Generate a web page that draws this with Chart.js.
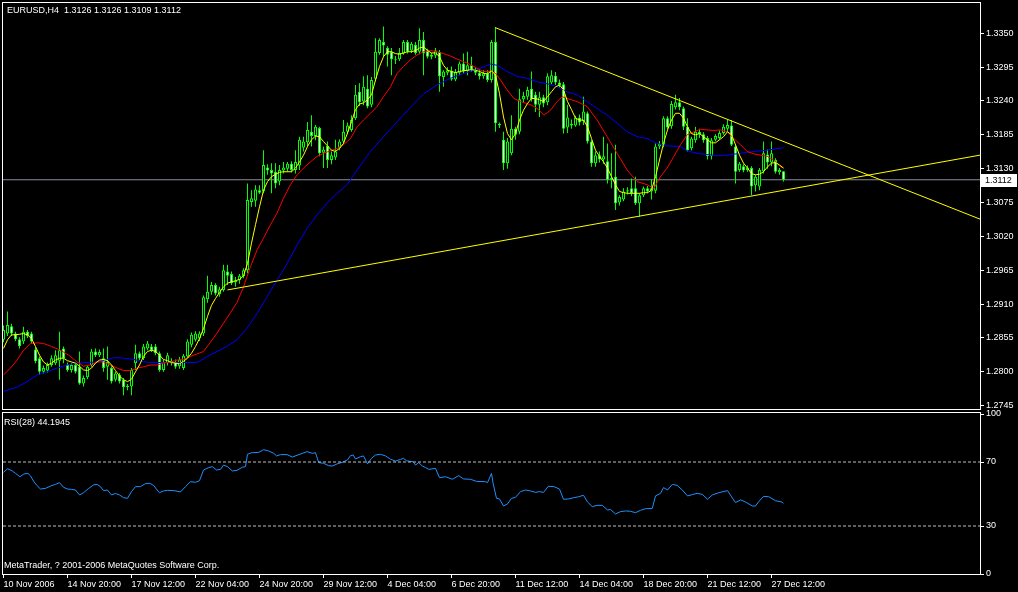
<!DOCTYPE html>
<html>
<head>
<meta charset="utf-8">
<script src="https://cdn.jsdelivr.net/npm/chart.js@4.4.1/dist/chart.umd.min.js"></script>
<style>
  html, body { margin: 0; padding: 0; background: #000; overflow: hidden; }
  #wrap { position: relative; width: 1018px; height: 592px; background: #000; }
  canvas { position: absolute; left: 0; }
  #main { top: 0; width: 1018px; height: 410px; }
  #rsi { top: 410px; width: 1018px; height: 182px; }
</style>
</head>
<body>
<div id="wrap">
  <canvas id="main" width="1018" height="410"></canvas>
  <canvas id="rsi" width="1018" height="182"></canvas>
</div>
<script>
// EURUSD H4, bar index 0 = 10 Nov 2006 00:00
const symbolLine = "EURUSD,H4  1.3126 1.3126 1.3109 1.3112";
const rsiTitle = "RSI(28) 44.1945";
const copyright = "MetaTrader, ? 2001-2006 MetaQuotes Software Corp.";
const bidPrice = 1.3112;

const opens = [
  1.2852,1.2862,1.2874,1.2862,1.2853,1.2849,1.2865,1.2862,1.2836,1.2822,
  1.2800,1.2802,1.2811,1.2814,1.2818,1.2838,1.2811,1.2803,1.2811,1.2808,
  1.2781,1.2791,1.2811,1.2833,1.2827,1.2822,1.2808,1.2806,1.2787,1.2795,
  1.2787,1.2775,1.2776,1.2814,1.2830,1.2822,1.2838,1.2841,1.2841,1.2830,
  1.2803,1.2814,1.2818,1.2816,1.2809,1.2806,1.2825,1.2844,1.2852,1.2854,
  1.2862,1.2918,1.2930,1.2941,1.2926,1.2933,1.2963,1.2959,1.2945,1.2949,
  1.2955,1.2965,1.3076,1.3078,1.3095,1.3093,1.3132,1.3128,1.3125,1.3109,
  1.3127,1.3130,1.3138,1.3128,1.3135,1.3164,1.3173,1.3190,1.3183,1.3196,
  1.3156,1.3167,1.3144,1.3148,1.3163,1.3174,1.3190,1.3193,1.3212,1.3255,
  1.3239,1.3260,1.3234,1.3276,1.3318,1.3336,1.3326,1.3320,1.3306,1.3308,
  1.3317,1.3336,1.3322,1.3331,1.3320,1.3339,1.3322,1.3312,1.3314,1.3320,
  1.3279,1.3286,1.3289,1.3275,1.3286,1.3301,1.3289,1.3298,1.3290,1.3286,
  1.3280,1.3285,1.3274,1.3336,1.3203,1.3177,1.3139,1.3155,1.3195,1.3190,
  1.3243,1.3247,1.3260,1.3250,1.3234,1.3246,1.3238,1.3270,1.3281,1.3270,
  1.3267,1.3197,1.3203,1.3200,1.3213,1.3207,1.3220,1.3174,1.3139,1.3152,
  1.3145,1.3142,1.3112,1.3117,1.3075,1.3080,1.3093,1.3098,1.3098,1.3074,
  1.3087,1.3098,1.3093,1.3094,1.3166,1.3169,1.3212,1.3199,1.3230,1.3238,
  1.3228,1.3198,1.3163,1.3176,1.3190,1.3186,1.3180,1.3150,1.3177,1.3180,
  1.3188,1.3195,1.3200,1.3166,1.3128,1.3134,1.3128,1.3131,1.3103,1.3101,
  1.3126,1.3153,1.3140,1.3144,1.3124,1.3126
];
const highs = [
  1.2875,1.2898,1.2878,1.2865,1.2856,1.2873,1.2868,1.2865,1.2840,1.2825,
  1.2810,1.2815,1.2827,1.2835,1.2865,1.2841,1.2815,1.2814,1.2814,1.2833,
  1.2794,1.2811,1.2837,1.2838,1.2836,1.2838,1.2841,1.2809,1.2800,1.2798,
  1.2790,1.2780,1.2806,1.2844,1.2833,1.2845,1.2850,1.2845,1.2845,1.2833,
  1.2820,1.2831,1.2822,1.2820,1.2824,1.2829,1.2853,1.2864,1.2866,1.2866,
  1.2924,1.2956,1.2946,1.2944,1.2938,1.2974,1.2974,1.2963,1.2954,1.2959,
  1.2968,1.3106,1.3095,1.3103,1.3103,1.3160,1.3137,1.3139,1.3139,1.3136,
  1.3141,1.3141,1.3142,1.3160,1.3182,1.3182,1.3206,1.3217,1.3201,1.3198,
  1.3166,1.3174,1.3158,1.3177,1.3178,1.3209,1.3205,1.3217,1.3266,1.3269,
  1.3280,1.3282,1.3279,1.3342,1.3342,1.3361,1.3329,1.3326,1.3313,1.3326,
  1.3339,1.3339,1.3336,1.3336,1.3358,1.3352,1.3325,1.3318,1.3326,1.3323,
  1.3290,1.3295,1.3296,1.3292,1.3304,1.3317,1.3320,1.3312,1.3295,1.3290,
  1.3290,1.3290,1.3339,1.3360,1.3205,1.3190,1.3180,1.3217,1.3198,1.3260,
  1.3255,1.3263,1.3288,1.3255,1.3255,1.3250,1.3285,1.3290,1.3287,1.3275,
  1.3271,1.3234,1.3210,1.3216,1.3218,1.3247,1.3223,1.3176,1.3158,1.3158,
  1.3182,1.3171,1.3155,1.3169,1.3087,1.3098,1.3100,1.3114,1.3117,1.3090,
  1.3101,1.3102,1.3112,1.3171,1.3175,1.3215,1.3215,1.3240,1.3250,1.3245,
  1.3231,1.3212,1.3182,1.3198,1.3195,1.3189,1.3183,1.3180,1.3186,1.3192,
  1.3202,1.3209,1.3209,1.3170,1.3141,1.3137,1.3135,1.3134,1.3120,1.3131,
  1.3174,1.3161,1.3174,1.3147,1.3131,1.3126
];
const lows = [
  1.2848,1.2858,1.2858,1.2850,1.2838,1.2845,1.2855,1.2846,1.2814,1.2795,
  1.2797,1.2799,1.2808,1.2811,1.2787,1.2814,1.2800,1.2799,1.2797,1.2779,
  1.2776,1.2788,1.2808,1.2824,1.2824,1.2800,1.2787,1.2781,1.2784,1.2781,
  1.2762,1.2770,1.2762,1.2803,1.2819,1.2819,1.2835,1.2832,1.2827,1.2800,
  1.2800,1.2810,1.2810,1.2805,1.2805,1.2803,1.2822,1.2840,1.2849,1.2850,
  1.2858,1.2912,1.2925,1.2924,1.2922,1.2930,1.2941,1.2941,1.2938,1.2943,
  1.2952,1.2960,1.3068,1.3068,1.3089,1.3090,1.3120,1.3090,1.3098,1.3103,
  1.3122,1.3125,1.3124,1.3122,1.3128,1.3158,1.3166,1.3166,1.3176,1.3150,
  1.3131,1.3131,1.3137,1.3144,1.3160,1.3171,1.3186,1.3190,1.3209,1.3232,
  1.3233,1.3228,1.3230,1.3272,1.3315,1.3312,1.3296,1.3282,1.3300,1.3305,
  1.3315,1.3317,1.3318,1.3315,1.3316,1.3282,1.3309,1.3308,1.3310,1.3255,
  1.3263,1.3282,1.3273,1.3272,1.3282,1.3284,1.3282,1.3287,1.3282,1.3275,
  1.3276,1.3271,1.3270,1.3190,1.3196,1.3128,1.3130,1.3152,1.3177,1.3186,
  1.3238,1.3242,1.3239,1.3222,1.3214,1.3230,1.3233,1.3267,1.3266,1.3262,
  1.3187,1.3188,1.3195,1.3198,1.3200,1.3201,1.3171,1.3133,1.3133,1.3140,
  1.3138,1.3106,1.3098,1.3063,1.3070,1.3077,1.3088,1.3085,1.3071,1.3052,
  1.3084,1.3090,1.3080,1.3090,1.3162,1.3165,1.3194,1.3195,1.3226,1.3225,
  1.3193,1.3158,1.3160,1.3172,1.3180,1.3172,1.3145,1.3145,1.3174,1.3177,
  1.3185,1.3190,1.3167,1.3106,1.3125,1.3124,1.3125,1.3087,1.3093,1.3095,
  1.3122,1.3130,1.3134,1.3122,1.3120,1.3109
];
const closes = [
  1.2868,1.2876,1.2862,1.2853,1.2842,1.2865,1.2858,1.2849,1.2817,1.2800,
  1.2806,1.2811,1.2822,1.2827,1.2835,1.2822,1.2803,1.2811,1.2800,1.2781,
  1.2790,1.2808,1.2833,1.2827,1.2832,1.2806,1.2816,1.2784,1.2797,1.2784,
  1.2775,1.2777,1.2803,1.2830,1.2822,1.2841,1.2846,1.2835,1.2830,1.2803,
  1.2816,1.2827,1.2814,1.2808,1.2820,1.2826,1.2849,1.2860,1.2862,1.2862,
  1.2921,1.2930,1.2941,1.2927,1.2934,1.2965,1.2956,1.2944,1.2948,1.2956,
  1.2965,1.3079,1.3082,1.3096,1.3091,1.3136,1.3127,1.3122,1.3106,1.3128,
  1.3132,1.3138,1.3128,1.3141,1.3177,1.3174,1.3193,1.3183,1.3198,1.3155,
  1.3161,1.3144,1.3152,1.3158,1.3174,1.3190,1.3200,1.3209,1.3250,1.3238,
  1.3263,1.3231,1.3274,1.3320,1.3339,1.3330,1.3315,1.3308,1.3308,1.3318,
  1.3336,1.3320,1.3333,1.3318,1.3339,1.3317,1.3312,1.3315,1.3322,1.3280,
  1.3288,1.3290,1.3275,1.3287,1.3301,1.3288,1.3298,1.3291,1.3286,1.3280,
  1.3285,1.3274,1.3336,1.3204,1.3200,1.3139,1.3174,1.3195,1.3185,1.3243,
  1.3248,1.3258,1.3243,1.3234,1.3246,1.3236,1.3280,1.3282,1.3270,1.3266,
  1.3195,1.3213,1.3200,1.3213,1.3205,1.3223,1.3174,1.3139,1.3152,1.3145,
  1.3150,1.3112,1.3115,1.3074,1.3084,1.3093,1.3095,1.3090,1.3074,1.3087,
  1.3098,1.3093,1.3098,1.3166,1.3170,1.3212,1.3197,1.3235,1.3238,1.3230,
  1.3198,1.3160,1.3179,1.3190,1.3186,1.3176,1.3150,1.3176,1.3183,1.3188,
  1.3198,1.3201,1.3169,1.3125,1.3138,1.3127,1.3132,1.3101,1.3117,1.3128,
  1.3155,1.3140,1.3155,1.3125,1.3128,1.3112
];

// fast MA (yellow), one value per bar
const fastMA = [
  1.2838,1.2852,1.2860,1.2860,1.2861,1.2862,1.2860,1.2854,1.2841,1.2827,
  1.2816,1.2811,1.2814,1.2819,1.2822,1.2822,1.2818,1.2816,1.2814,1.2809,
  1.2803,1.2802,1.2806,1.2814,1.2819,1.2820,1.2818,1.2811,1.2802,1.2793,
  1.2787,1.2784,1.2788,1.2800,1.2811,1.2825,1.2833,1.2835,1.2833,1.2827,
  1.2820,1.2818,1.2815,1.2814,1.2813,1.2817,1.2822,1.2830,1.2841,1.2854,
  1.2870,1.2890,1.2908,1.2919,1.2929,1.2938,1.2944,1.2946,1.2948,1.2950,
  1.2956,1.2976,1.3009,1.3039,1.3068,1.3095,1.3109,1.3117,1.3121,1.3124,
  1.3125,1.3125,1.3125,1.3131,1.3141,1.3152,1.3166,1.3177,1.3183,1.3182,
  1.3174,1.3167,1.3160,1.3158,1.3163,1.3171,1.3188,1.3206,1.3226,1.3235,
  1.3237,1.3242,1.3250,1.3274,1.3296,1.3312,1.3320,1.3320,1.3317,1.3316,
  1.3318,1.3320,1.3320,1.3322,1.3326,1.3328,1.3322,1.3318,1.3318,1.3312,
  1.3298,1.3290,1.3288,1.3286,1.3288,1.3289,1.3290,1.3291,1.3290,1.3288,
  1.3285,1.3284,1.3289,1.3282,1.3252,1.3214,1.3187,1.3177,1.3187,1.3209,
  1.3225,1.3236,1.3244,1.3244,1.3242,1.3239,1.3247,1.3255,1.3263,1.3266,
  1.3258,1.3239,1.3226,1.3212,1.3209,1.3209,1.3198,1.3179,1.3160,1.3150,
  1.3141,1.3131,1.3117,1.3104,1.3093,1.3091,1.3090,1.3090,1.3090,1.3090,
  1.3091,1.3091,1.3095,1.3117,1.3144,1.3171,1.3193,1.3209,1.3220,1.3220,
  1.3212,1.3198,1.3187,1.3185,1.3187,1.3182,1.3177,1.3172,1.3172,1.3177,
  1.3182,1.3190,1.3185,1.3169,1.3152,1.3139,1.3131,1.3122,1.3120,1.3121,
  1.3125,1.3133,1.3139,1.3140,1.3136,1.3131
];

// middle MA (red), read at these bar positions
const midBars = [0,1.75,3.4,5,6.75,8.4,10,12,14.25,16.3,18.4,20,21.75,23.4,25,26.75,28.4,30,31.75,33.4,
  35,36.75,38.4,40,41.75,43.4,45,46.75,48.4,50,51.75,53.4,55,56.75,58.4,60,60.9,61.75,63.4,65,
  66.75,68.4,70,71.75,73.4,75,76.75,78.4,80,81.75,83.4,85,86.75,88.4,90,91.75,93.4,95,96.75,98.4,
  100,101.75,103.4,105,106.75,108.4,110,111.75,113.4,115,116.75,118.4,120,121.75,123,124.25,125.9,127.6,129.25,131.75,
  133.4,135.1,136.75,138.4,139.7,140.9,143.4,145.9,148.4,150.9,153.4,155.9,158.4,160.9,162.6,164.25,165.9,167.6,169.25,170.9,
  172.6,174.25,175.9,177.6,179.25,180.9,182.6,184.25,185.9,187.6,189.25,190.9,192.6,194.25,195];
const midMA = [1.2795,1.2806,1.2819,1.2835,1.2846,1.2847,1.2846,1.2841,1.2835,1.2827,1.2816,1.2809,1.2811,1.2816,1.2816,1.2811,1.2806,1.2802,1.2802,1.2806,
  1.2808,1.2811,1.2811,1.2814,1.2816,1.2819,1.2820,1.2825,1.2829,1.2833,1.2848,1.2863,1.2879,1.2896,1.2913,1.2938,1.2955,1.2971,1.2998,1.3017,
  1.3039,1.3058,1.3082,1.3104,1.3120,1.3131,1.3141,1.3150,1.3155,1.3159,1.3163,1.3169,1.3179,1.3198,1.3209,1.3220,1.3231,1.3247,1.3263,1.3285,
  1.3296,1.3307,1.3315,1.3320,1.3322,1.3320,1.3317,1.3313,1.3308,1.3304,1.3299,1.3293,1.3288,1.3288,1.3285,1.3274,1.3258,1.3244,1.3239,1.3234,
  1.3228,1.3217,1.3225,1.3239,1.3247,1.3244,1.3239,1.3231,1.3209,1.3182,1.3155,1.3128,1.3109,1.3104,1.3098,1.3117,1.3131,1.3150,1.3169,1.3185,
  1.3190,1.3194,1.3193,1.3192,1.3193,1.3190,1.3179,1.3169,1.3158,1.3154,1.3152,1.3150,1.3144,1.3133,1.3131];

// slow MA (blue)
const slowBars = [0,3.4,5.9,8.4,10.9,13.4,15.9,18.4,20.9,23.4,25.9,28,30,32.6,35,37.6,40,42.6,45,47.6,
  48.8,51,53.4,56,58.4,60.9,63.4,65.9,68.4,70.9,73.4,75.9,78.4,80.9,83.4,85.9,88.4,91.75,95,98.4,
  101.75,105.1,108.4,111.75,115.1,118.4,121.75,123.4,125.9,128.4,130.9,133.4,135.9,138.4,140.9,143.4,145.9,148.4,150.9,153.4,
  155.9,158.4,160.9,163.4,165.9,169.25,170.9,173.4,175.9,178.4,180.9,184.25,187.6,190.9,195];
const slowMA = [1.2768,1.2775,1.2784,1.2795,1.2800,1.2806,1.2811,1.2814,1.2815,1.2816,1.2820,1.2823,1.2822,1.2820,1.2816,1.2815,1.2815,1.2815,1.2815,1.2815,
  1.2816,1.2825,1.2833,1.2842,1.2852,1.2871,1.2895,1.2922,1.2949,1.2976,1.3006,1.3033,1.3055,1.3074,1.3090,1.3104,1.3128,1.3158,1.3182,1.3206,
  1.3230,1.3252,1.3266,1.3277,1.3285,1.3291,1.3300,1.3298,1.3288,1.3280,1.3277,1.3271,1.3268,1.3263,1.3255,1.3250,1.3239,1.3228,1.3217,1.3204,
  1.3190,1.3182,1.3179,1.3171,1.3167,1.3166,1.3159,1.3155,1.3153,1.3151,1.3152,1.3155,1.3158,1.3160,1.3164];

// hand drawn trend lines (bar, price)
const trendDownBars = [123, 244.125];
const trendDownVals = [1.3359, 1.3048];
const trendUpBars = [56, 244.125];
const trendUpVals = [1.2933, 1.3152];

// RSI(28)
const rsiBars = [0,1,2.2,3,4.1,5.1,6.1,6.75,7.6,8.4,9.25,10.5,11.75,13,14,15,16,17,18,19,
  20,21.3,22.6,23.4,24.25,25,26,27,28,29,30,31,32,33,34.25,35.5,36.6,37.6,38.4,39,
  40,41,42.6,44.25,45.5,46.75,48,49,50,51.3,52.2,53.25,54.25,55,56,57.2,58.4,59.7,60.5,61,
  62,63.8,65,66.3,67.6,68.25,69.25,70.9,72.2,73.4,74.7,75.9,77.2,78,78.8,80,81.3,82.2,83.4,84.7,
  86,86.75,87.4,88,89.25,90,91,92,93,94.25,95.5,96.75,98,99.25,100,100.75,101.6,102.4,103,103.8,
  104.7,105.5,106.3,108,109,110.5,112.2,113.8,115,116.75,118.25,120.5,121,122,122.4,123.25,124,125,126,127,
  128,129.25,130.5,131.75,133,134,135,136.2,137.6,139,140,141.3,142.6,143.8,145,146,147.2,148.4,149.7,151,
  151.75,153,154.25,155.5,156.75,158,159.25,160.5,162.2,163,164.25,165,166,167.2,168.4,169.7,171,172.2,173.4,174.7,
  176,177.2,178.8,181,183,184.25,185.5,187.2,188,188.8,190,191.3,193,194.6,195];
const rsiVals = [63.5,65.8,64.4,62.9,60.8,62.5,62.9,61.3,57.7,55.2,53.1,53.5,55.0,56.0,57.1,54.2,53.1,52.9,52.5,49.4,
  50.8,53.5,55.8,56.0,54.6,52.1,52.5,49.4,50.4,49.4,47.7,47.3,51.5,54.6,54.6,56.5,56.7,55.2,52.5,50.8,
  51.9,52.3,52.1,51.3,54.6,57.7,57.3,58.3,65.0,66.5,67.1,65.0,65.4,68.1,67.1,64.4,64.8,66.7,67.1,74.8,
  75.8,76.0,77.7,76.9,75.4,73.8,74.6,74.6,73.1,74.2,75.4,76.5,75.4,75.8,69.6,69.2,67.7,67.5,68.8,69.8,
  71.3,74.0,74.4,71.9,73.3,73.8,68.8,72.3,74.4,74.8,73.8,71.7,70.6,71.6,72.3,70.8,70.4,70.2,68.1,69.6,
  67.5,66.5,65.4,66.0,60.2,60.8,59.2,61.5,59.4,59.2,57.9,57.7,57.1,62.9,56.7,47.3,46.9,42.5,43.8,47.3,
  47.9,51.5,52.5,51.9,51.0,51.5,51.0,54.8,54.6,53.1,46.7,46.9,47.7,48.3,49.2,45.0,42.1,42.9,42.9,40.0,
  40.4,37.5,39.0,39.4,39.2,38.3,39.8,40.8,41.0,48.8,50.4,54.0,52.5,56.0,55.4,52.5,48.8,49.6,50.4,49.8,
  46.7,49.4,50.8,52.1,44.6,46.3,45.0,42.5,42.5,45.2,48.5,48.3,45.8,45.0,44.2];
const rsiLevels = [30, 70];

// axes
const priceTicks = [1.2745,1.2800,1.2855,1.2910,1.2965,1.3020,1.3075,1.3130,1.3185,1.3240,1.3295,1.3350];
const rsiTicks = [0, 30, 70, 100];
const dateTickBars = [0,16,32,48,64,80,96,112,128,144,160,176,192];
const dateLabels = ["10 Nov 2006","14 Nov 20:00","17 Nov 12:00","22 Nov 04:00","24 Nov 20:00","29 Nov 12:00",
  "4 Dec 04:00","6 Dec 20:00","11 Dec 12:00","14 Dec 04:00","18 Dec 20:00","21 Dec 12:00","27 Dec 12:00"];

const X_MIN = -0.125, X_MAX = 244.125;
const PRICE_MIN = 1.27395, PRICE_MAX = 1.33992;
const RSI_MIN = 0, RSI_MAX = 100.625;

const LIME = '#00ff00';
const FONT = { family: "'Liberation Sans', Arial, sans-serif", size: 9 };
const FONT_CSS = "9px 'Liberation Sans', Arial, sans-serif";

Chart.defaults.animation = false;
Chart.defaults.color = '#ffffff';
Chart.defaults.font.family = FONT.family;
Chart.defaults.font.size = FONT.size;

const barIdx = opens.map((_, i) => i);
const pts = (xs, ys) => xs.map((x, i) => ({ x: x, y: ys[i] }));

function lineSet(label, data, color, extra) {
  return Object.assign({
    type: 'line', label: label, data: data,
    borderColor: color, borderWidth: 1, pointRadius: 0, tension: 0, fill: false
  }, extra || {});
}

// white box round each pane
const framePlugin = {
  id: 'frame',
  afterDraw(chart) {
    const { ctx, chartArea: a } = chart;
    ctx.save();
    ctx.strokeStyle = '#ffffff';
    ctx.lineWidth = 1;
    ctx.strokeRect(a.left - 0.5, a.top - 0.5, a.right - a.left + 1, a.bottom - a.top + 1);
    ctx.restore();
  }
};

function fixedWidth(w) {
  return s => { s.width = w; s.paddingTop = 0; s.paddingBottom = 0; };
}

const mainChart = new Chart(document.getElementById('main'), {
  type: 'bar',
  data: {
    datasets: [
      lineSet('bid', pts([X_MIN, X_MAX], [bidPrice, bidPrice]), '#8c8c9c', { order: 6 }),
      {
        label: 'wicks',
        data: barIdx.map(i => ({ x: i, y: [lows[i], highs[i]] })),
        backgroundColor: LIME, barThickness: 1, grouped: false, inflateAmount: 0, order: 5
      },
      {
        label: 'bodies',
        data: barIdx.map(i => ({ x: i, y: [opens[i], closes[i]] })),
        backgroundColor: barIdx.map(i => closes[i] >= opens[i] ? '#000000' : '#ffffff'),
        borderColor: LIME, borderWidth: 1, borderSkipped: false,
        barThickness: 3, minBarLength: 1, grouped: false, inflateAmount: 0, order: 4
      },
      lineSet('slow', pts(slowBars, slowMA), '#0000ff', { order: 3 }),
      lineSet('mid', pts(midBars, midMA), '#ff0000', { order: 2 }),
      lineSet('fast', pts(barIdx, fastMA), '#ffff00', { order: 1 }),
      lineSet('trendDown', pts(trendDownBars, trendDownVals), '#ffff00', { order: 0 }),
      lineSet('trendUp', pts(trendUpBars, trendUpVals), '#ffff00', { order: 0 })
    ]
  },
  options: {
    responsive: false,
    events: [],
    layout: { padding: { left: 3, top: 3, right: 0, bottom: 1 } },
    plugins: { legend: { display: false }, tooltip: { enabled: false } },
    scales: {
      x: { type: 'linear', display: false, offset: false, min: X_MIN, max: X_MAX },
      y: {
        type: 'linear', position: 'right', min: PRICE_MIN, max: PRICE_MAX,
        afterBuildTicks: s => { s.ticks = priceTicks.map(v => ({ value: v })); },
        afterFit: fixedWidth(38),
        grid: { drawOnChartArea: false, color: '#ffffff', tickLength: 4 },
        border: { color: '#ffffff' },
        ticks: { color: '#ffffff', font: FONT, padding: 2, callback: v => v.toFixed(4) }
      }
    }
  },
  plugins: [framePlugin, {
    id: 'mainText',
    afterDraw(chart) {
      const { ctx } = chart;
      const y = chart.scales.y.getPixelForValue(bidPrice);
      ctx.save();
      ctx.font = FONT_CSS;
      ctx.textBaseline = 'middle';
      ctx.fillStyle = '#ffffff';
      ctx.fillText(symbolLine, 7, 11);
      ctx.fillRect(981, Math.round(y) - 6, 36, 13);
      ctx.fillStyle = '#000000';
      ctx.fillText(bidPrice.toFixed(4), 985, Math.round(y) + 0.5);
      ctx.restore();
    }
  }]
});

const rsiChart = new Chart(document.getElementById('rsi'), {
  type: 'line',
  data: {
    datasets: [
      lineSet('lvl70', pts([X_MIN, X_MAX], [rsiLevels[1], rsiLevels[1]]), '#c0c0c0', { borderDash: [3, 2] }),
      lineSet('lvl30', pts([X_MIN, X_MAX], [rsiLevels[0], rsiLevels[0]]), '#c0c0c0', { borderDash: [3, 2] }),
      lineSet('rsi', pts(rsiBars, rsiVals), '#1e90ff')
    ]
  },
  options: {
    responsive: false,
    events: [],
    layout: { padding: { left: 3, top: 3, right: 0, bottom: 0 } },
    plugins: { legend: { display: false }, tooltip: { enabled: false } },
    scales: {
      x: {
        type: 'linear', min: X_MIN, max: X_MAX, offset: false,
        afterBuildTicks: s => { s.ticks = dateTickBars.map(v => ({ value: v })); },
        afterFit: s => { s.height = 18; s.paddingLeft = 0; s.paddingRight = 0; },
        grid: { drawOnChartArea: false, color: '#ffffff', tickLength: 4 },
        border: { color: '#ffffff' },
        ticks: {
          color: '#ffffff', font: FONT, align: 'start', padding: 1, maxRotation: 0, autoSkip: false,
          callback: v => dateLabels[dateTickBars.indexOf(v)]
        }
      },
      y: {
        type: 'linear', position: 'right', min: RSI_MIN, max: RSI_MAX,
        afterBuildTicks: s => { s.ticks = rsiTicks.map(v => ({ value: v })); },
        afterFit: fixedWidth(38),
        grid: { drawOnChartArea: false, color: '#ffffff', tickLength: 4 },
        border: { color: '#ffffff' },
        ticks: { color: '#ffffff', font: FONT, padding: 2 }
      }
    }
  },
  plugins: [framePlugin, {
    id: 'rsiText',
    afterDraw(chart) {
      const { ctx } = chart;
      ctx.save();
      ctx.font = FONT_CSS;
      ctx.textBaseline = 'middle';
      ctx.fillStyle = '#ffffff';
      ctx.fillText(rsiTitle, 4, 13);
      ctx.fillText(copyright, 4, 156);
      ctx.restore();
    }
  }]
});
</script>
</body>
</html>
